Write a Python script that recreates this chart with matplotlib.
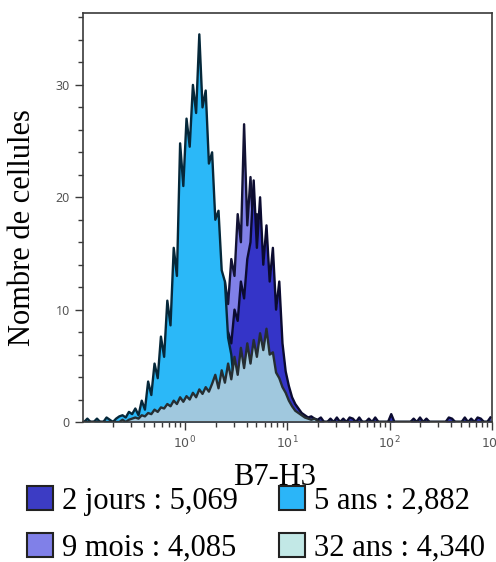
import numpy as np
import matplotlib
matplotlib.use("Agg")
import matplotlib.pyplot as plt
from matplotlib.patches import Patch
from matplotlib.ticker import LogLocator, MultipleLocator, FixedLocator, NullFormatter

# B7-H3 histograms, 32 channels per decade from 10^-1 to 10^3
groups = ['2 jours', '9 mois', '5 ans', '32 ans']
mfi = ['5,069', '4,085', '2,882', '4,340']

jours_2 = [
    0, 0, 0, 0, 0, 0, 0, 0, 0, 0, 0, 0, 0, 0, 0, 0,
    0, 0, 0, 0, 0, 0, 0.2, 0.2, 0.3, 0.2, 0.3, 0.3, 0.2, 0.4, 0.3, 0.5,
    0.6, 0.9, 1.2, 1.6, 2.0, 2.6, 2.2, 3.5, 3.0, 4.5, 4.0, 6.0, 5.5, 8.0, 7.0, 10.0,
    9.0, 12.5, 11.0, 14.5, 16.0, 21.5, 15.5, 20.0, 14.0, 17.5, 12.5, 15.5, 10.0, 12.5, 7.0, 4.5,
    3.2, 2.2, 1.6, 1.2, 0.8, 0.6, 0.4, 0.5, 0.3, 0.2, 0.4, 0, 0, 0.3, 0, 0.4,
    0, 0.3, 0, 0.4, 0.3, 0, 0.4, 0, 0, 0.3, 0, 0.4, 0, 0, 0, 0,
    0.7, 0, 0, 0, 0, 0, 0, 0.3, 0, 0.4, 0, 0.3, 0, 0, 0, 0,
    0, 0, 0.4, 0.3, 0, 0, 0, 0.4, 0, 0.3, 0, 0.4, 0.3, 0, 0, 0.4,
]
mois_9 = [
    0, 0, 0, 0, 0, 0, 0, 0, 0, 0, 0, 0, 0, 0.2, 0, 0.2,
    0, 0.2, 0, 0.3, 0.2, 0.3, 0.2, 0.4, 0.3, 0.2, 0.3, 0.3, 0.4, 0.5, 0.5, 0.6,
    0.7, 0.8, 1.2, 1.8, 3.0, 2.2, 4.5, 3.4, 6.5, 5.0, 9.0, 7.0, 12.5, 10.5, 14.5, 13.0,
    18.5, 16.0, 26.5, 17.5, 21.8, 16.5, 18.5, 13.0, 14.0, 8.5, 9.5, 5.5, 6.5, 3.8, 3.0, 2.0,
    1.4, 1.0, 0.7, 0.5, 0.3, 0.2, 0, 0, 0, 0, 0, 0, 0, 0, 0, 0,
    0, 0, 0, 0, 0, 0, 0, 0, 0, 0, 0, 0, 0, 0, 0, 0,
    0, 0, 0, 0, 0, 0, 0, 0, 0, 0, 0, 0, 0, 0, 0, 0,
    0, 0, 0, 0, 0, 0, 0, 0, 0, 0, 0, 0, 0, 0, 0, 0,
]
ans_5 = [
    0, 0.3, 0, 0, 0.3, 0, 0, 0.4, 0.2, 0, 0.3, 0.5, 0.6, 0.4, 0.9, 0.7,
    1.2, 0.6, 1.9, 1.1, 3.6, 2.4, 5.2, 3.9, 7.6, 5.8, 10.8, 8.6, 15.5, 13.0, 24.8, 21.0,
    27.0, 24.5, 30.0, 27.5, 34.5, 28.0, 29.5, 23.0, 24.0, 18.0, 18.8, 13.5, 12.5, 7.5, 6.0, 3.0,
    2.0, 1.2, 0.8, 0.5, 0.3, 0.2, 0, 0, 0, 0, 0, 0, 0, 0, 0, 0,
    0, 0, 0, 0, 0, 0, 0, 0, 0, 0, 0, 0, 0, 0, 0, 0,
    0, 0, 0, 0, 0, 0, 0, 0, 0, 0, 0, 0, 0, 0, 0, 0,
    0, 0, 0, 0, 0, 0, 0, 0, 0, 0, 0, 0, 0, 0, 0, 0,
    0, 0, 0, 0, 0, 0, 0, 0, 0, 0, 0, 0, 0, 0, 0, 0,
]
ans_32 = [
    0, 0, 0, 0, 0, 0, 0, 0, 0, 0, 0, 0, 0.2, 0, 0.2, 0.3,
    0.4, 0.3, 0.6, 0.5, 0.8, 0.7, 1.1, 0.9, 1.3, 1.2, 1.6, 1.4, 1.9, 1.6, 2.2, 1.8,
    2.3, 2.0, 2.6, 2.2, 2.9, 2.5, 3.1, 2.7, 3.4, 4.2, 3.0, 4.6, 3.5, 5.2, 3.8, 5.8,
    4.2, 6.6, 4.8, 7.0, 5.2, 7.3, 5.8, 7.9, 6.4, 8.3, 6.0, 6.2, 4.4, 3.9, 3.1, 2.6,
    1.9, 1.4, 1.0, 0.8, 0.6, 0.4, 0.3, 0.2, 0.3, 0.1, 0, 0, 0, 0, 0, 0,
    0, 0, 0, 0, 0, 0, 0, 0, 0, 0, 0, 0, 0, 0, 0, 0,
    0, 0, 0, 0, 0, 0, 0, 0, 0, 0, 0, 0, 0, 0, 0, 0,
    0, 0, 0, 0, 0, 0, 0, 0, 0, 0, 0, 0, 0, 0, 0, 0,
]

series = [jours_2, mois_9, ans_5, ans_32]
fill_colors = ['#3434c8', '#8080e8', '#2bb8f8', '#a0c8de']
edge_colors = ['#0b0b30', '#131335', '#06283a', '#262e32']
legend_colors = ['#3c3cc4', '#8080e8', '#2bb5f8', '#c2e8e6']
draw_order = [1, 0, 2, 3]

edges = np.logspace(-1, 3, len(jours_2) + 1)
centers = np.sqrt(edges[:-1] * edges[1:])

fig = plt.figure(figsize=(4.96, 5.62), dpi=100)
ax = fig.add_axes([83 / 496, 140 / 562, 409 / 496, 409 / 562])

for k in draw_order:
    ax.fill_between(centers, 0, series[k], color=fill_colors[k], lw=0, zorder=2)
    ax.plot(centers, series[k], color=edge_colors[k], lw=1.7, zorder=2)

ax.set_xscale('log')
ax.set_xlim(0.101, 1000)
ax.set_ylim(0, 36.4)
ax.xaxis.set_major_locator(FixedLocator([1, 10, 100, 1000]))
ax.xaxis.set_minor_locator(LogLocator(base=10, subs=np.arange(2, 10)))
ax.xaxis.set_minor_formatter(NullFormatter())
ax.yaxis.set_major_locator(MultipleLocator(10))
ax.yaxis.set_minor_locator(MultipleLocator(2))

for s in ax.spines.values():
    s.set_color('#3a3a3a')
    s.set_linewidth(1.2)
    s.set_zorder(4)
ax.tick_params(which='major', length=6, width=1, color='#3a3a3a',
               labelsize=9, labelcolor='#555555')
ax.tick_params(which='minor', length=3.5, width=1, color='#3a3a3a')
for lab in ax.get_yticklabels():
    lab.set_family('Noto Sans')

serif = 'Liberation Serif'
fig.text(275 / 496, 1 - 485 / 562, 'B7-H3', ha='center', va='baseline',
         family=serif, fontsize=22)
fig.text(23 / 496, 1 - 228 / 562, 'Nombre de cellules', ha='center', va='center',
         rotation=90, family=serif, fontsize=22)

handles = [Patch(facecolor=c, edgecolor='#222222', lw=1.5) for c in legend_colors]
labels = [f'{g} : {m}' for g, m in zip(groups, mfi)]
fig.legend(handles, labels, ncol=2, loc='upper left',
           bbox_to_anchor=(27 / 496, 1 - 486 / 562), frameon=False,
           prop={'family': serif, 'size': 22}, handlelength=0.85, handleheight=0.85,
           handletextpad=0.3, columnspacing=1.35, labelspacing=0.55,
           borderpad=0, borderaxespad=0)

fig.savefig('out.png', dpi=100)
